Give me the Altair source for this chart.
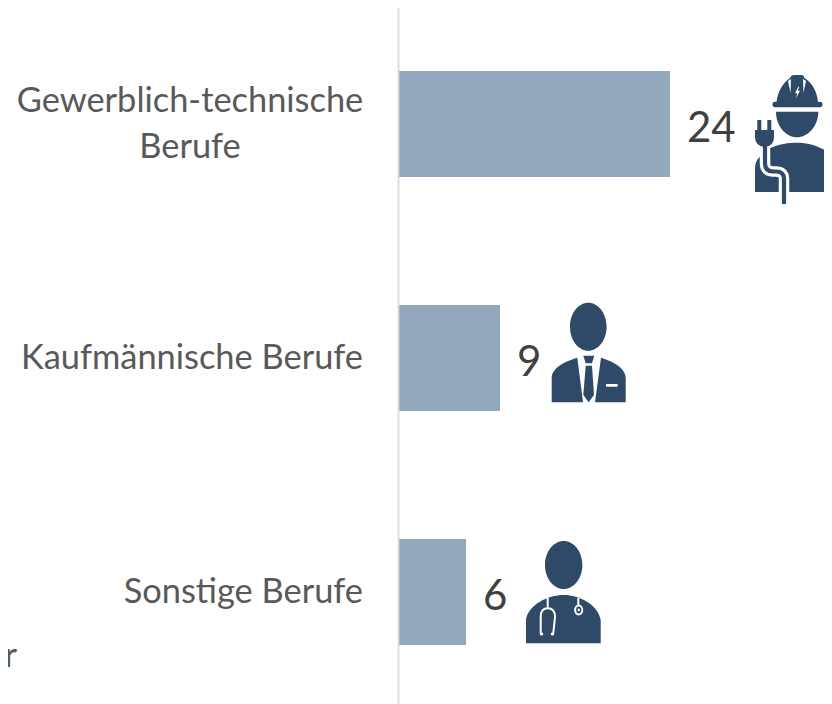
import re
import altair as alt
import pandas as pd

categories = ["Gewerblich-technische\nBerufe", "Kaufmännische Berufe", "Sonstige Berufe"]
values = [24, 9, 6]
cut_off_text = ["er"]

BAR = "#92A8BD"
DARK = "#2E4A68"
WHITE = "#FFFFFF"
LABEL = "#595959"
VALUE = "#404040"
FONT = "Lato"


def rel(d, ox, oy):
    """Shift an icon outline so that (ox, oy) becomes its origin (bar end, bar middle)."""
    nums = iter(range(10**6))

    def sub(m):
        i = next(nums)
        v = float(m.group(0)) - (ox if i % 2 == 0 else oy)
        return f"{v:.2f}"

    return re.sub(r"-?\d+(?:\.\d+)?", sub, d)


def ellipse(cx, cy, rx, ry):
    k = 0.5523
    return (
        f"M{cx - rx:.2f} {cy} C{cx - rx:.2f} {cy - k * ry:.2f} {cx - k * rx:.2f} {cy - ry:.2f} {cx} {cy - ry:.2f} "
        f"C{cx + k * rx:.2f} {cy - ry:.2f} {cx + rx:.2f} {cy - k * ry:.2f} {cx + rx:.2f} {cy} "
        f"C{cx + rx:.2f} {cy + k * ry:.2f} {cx + k * rx:.2f} {cy + ry:.2f} {cx} {cy + ry:.2f} "
        f"C{cx - k * rx:.2f} {cy + ry:.2f} {cx - rx:.2f} {cy + k * ry:.2f} {cx - rx:.2f} {cy} Z"
    )


# Worker icon ------------------------------------------------------------
W = (670, 124)
worker_fill = " ".join([
    "M776.5 102 C778 90 784 82 790 78 Q791 75 794 75 L801 75 Q804 75 804.5 78 C811 82 817 90 818 102 Z",
    "M775 101.7 L820 101.7 Q822.5 101.7 822.5 104.5 Q822.5 107.3 820 107.3 L775 107.3 Q772.5 107.3 772.5 104.5 Q772.5 101.7 775 101.7 Z",
    "M776 111.7 L818.3 111.7 C818.3 126 808 137.3 797 137.3 C786 137.3 776 126 776 111.7 Z",
    "M755 192 L755 168 Q755 160 762 155 L770 148 C780 144 788 142.7 797 142.7 C812 142.7 826 149 836 158 L836 192 Z",
])
worker_white = " ".join([
    "M788 81 L791 79 L790.5 93 Z",
    "M806 81 L803 79 L803.5 93 Z",
    "M798.3 86.7 L795 93.3 L797.3 93.3 L796 98.3 L800 90.7 L797.7 90.7 L799.3 86.7 Z",
])
cable = "M765 145 L765 163 Q765 171.5 773 171.5 L776 171.5 Q784 171.5 784 179 L784 204"
plug = " ".join([
    "M757.3 120 L761.3 120 L761.3 130 L767.3 130 L767.3 120 L771.3 120 L771.3 130 L774 130 L774 137 Q774 146 765 147 Q755 146 755 137 L755 130 L757.3 130 Z",
])

# Business icon ----------------------------------------------------------
B = (500, 358)
business_fill = " ".join([
    ellipse(588.3, 326.7, 18.3, 24),
    "M551.7 402.3 L551.7 378 C551.7 366 570 360 577.3 357.7 L583 402.3 Z",
    "M625.7 402.3 L625.7 378 C625.7 366 608 360 601 357.7 L595 402.3 Z",
    "M583.3 355.7 L594.3 355.7 L592 363.3 L585.7 363.3 Z",
    "M585.7 365.7 L592 365.7 L594 395 L588.7 402.3 L583.3 395 Z",
])
business_white = "M606 384 L617.7 384 L617.7 386.7 L606 386.7 Z"

# Doctor icon ------------------------------------------------------------
D = (466, 592)
doctor_fill = " ".join([
    ellipse(563.7, 565, 18.7, 24),
    "M526 643.3 L526 620 C528 605 548 595 563.3 595 C580 595 598 605 600.7 620 L600.7 643.3 Z",
])
doctor_tube = " ".join([
    "M547.7 598 L547.7 608.3",
    "M540.7 633 L540.7 617 Q540.7 608.3 547.7 608.3 Q555 608.3 555 617 L553.3 633",
    "M578.3 598 L578.3 605",
    ellipse(578.7, 610, 3.6, 4.4),
])
doctor_white = " ".join([
    ellipse(578.7, 610, 1.2, 1.4),
    ellipse(541.5, 634, 1.8, 1.5),
    ellipse(552.5, 634, 1.8, 1.5),
])

df = pd.DataFrame({"category": categories, "value": values})

y = alt.Y(
    "category:N",
    sort=categories,
    title=None,
    scale=alt.Scale(domain=categories, range=[-1, 701], paddingInner=0.547, paddingOuter=0.2735),
    axis=alt.Axis(labels=False, ticks=False, grid=False, domain=True, domainColor="#D9D9D9", domainWidth=1.8, zindex=1),
)
x = alt.X(
    "value:Q",
    title=None,
    scale=alt.Scale(domain=[0, 426 / (272 / 24)], nice=False, zero=False),
    axis=None,
)

base = alt.Chart(df)
bars = base.mark_bar(color=BAR, clip=False).encode(x=x, y=y)

value_text = base.mark_text(
    font=FONT, fontSize=42, color=VALUE, align="left", baseline="alphabetic", dx=17, dy=18
).encode(x=x, y=y, text="value:Q")

two_line = base.transform_filter(alt.datum.value == 24).mark_text(
    font=FONT, fontSize=34.4, color=LABEL, align="center", baseline="middle", lineBreak="\n", lineHeight=46, dy=-22
).encode(x=alt.value(-208), y=y, text="category:N")
one_line = base.transform_filter(alt.datum.value != 24).mark_text(
    font=FONT, fontSize=34.4, color=LABEL, align="right", baseline="middle", dy=1
).encode(x=alt.value(-35), y=y, text="category:N")

tail = alt.Chart(pd.DataFrame({"t": cut_off_text})).mark_text(
    font=FONT, fontSize=34.4, color=LABEL, align="right", baseline="alphabetic"
).encode(x=alt.value(-381), y=alt.value(659), text="t:N")


def icon(value, part, origin, color, stroke=None, width=None):
    data = base.transform_filter(alt.datum.value == value)
    path = rel(part, *origin)
    if stroke:
        mark = data.mark_point(shape=path, size=4, filled=False, stroke=color, strokeWidth=width, opacity=1, strokeCap="butt")
    else:
        mark = data.mark_point(shape=path, size=4, filled=True, fill=color, strokeWidth=0, opacity=1)
    return mark.encode(x=x, y=y)


icons = [
    icon(24, worker_fill, W, DARK),
    icon(24, worker_white, W, WHITE),
    icon(24, cable, W, WHITE, stroke=True, width=10.5),
    icon(24, cable, W, DARK, stroke=True, width=4.2),
    icon(24, plug, W, DARK),
    icon(9, business_fill, B, DARK),
    icon(9, business_white, B, WHITE),
    icon(6, doctor_fill, D, DARK),
    icon(6, doctor_tube, D, WHITE, stroke=True, width=2),
    icon(6, doctor_white, D, WHITE),
]

chart = alt.layer(bars, value_text, two_line, one_line, tail, *icons).properties(
    width=426,
    height=696,
    padding={"left": 390, "top": 0, "right": 0, "bottom": 0},
    autosize=alt.AutoSizeParams(type="none"),
    background="white",
).configure_view(stroke=None)

chart.save("out.html", embed_options={"renderer": "svg", "actions": False})
